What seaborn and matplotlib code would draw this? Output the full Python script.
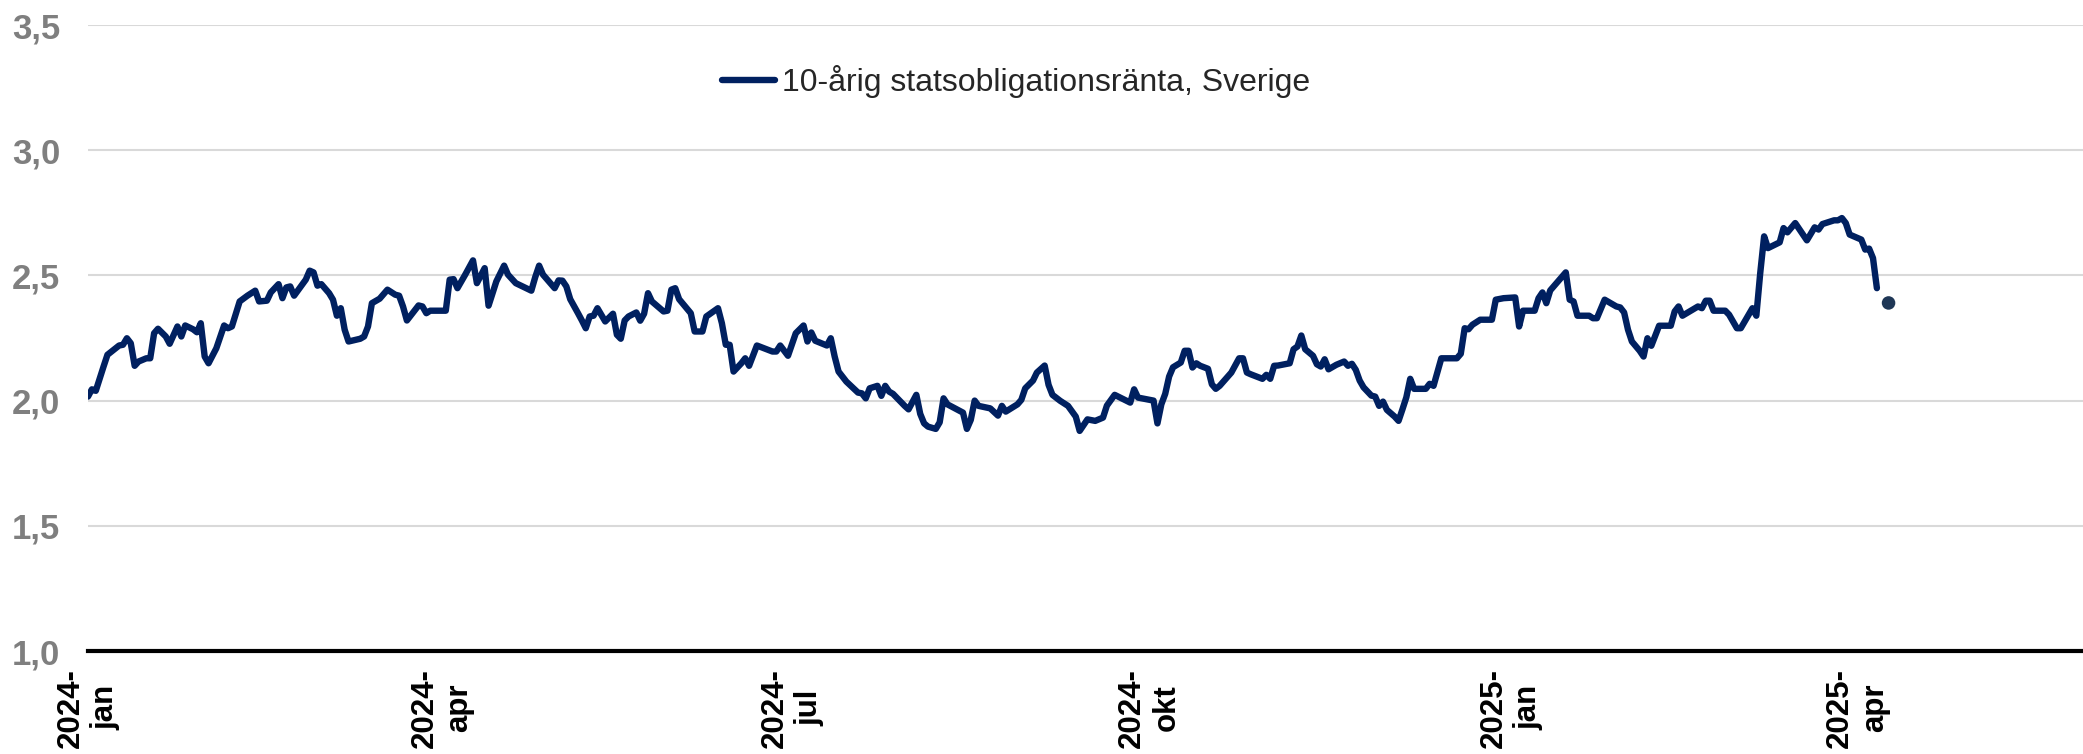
import numpy as np
import pandas as pd
import matplotlib
matplotlib.use('Agg')
import matplotlib.pyplot as plt
import seaborn as sns

# Data: dagar efter startdatum och ränta (%)
start = '2024-01-01'
dag_2024 = [1, 2, 3, 5, 6, 9, 10, 11, 12, 13, 14, 16, 17, 18, 19, 21, 22, 24, 25, 26,
            28, 29, 30, 31, 32, 34, 36, 37, 38, 40, 42, 44, 45, 47, 48, 50, 51, 52, 53, 54,
            57, 58, 59, 60, 61, 63, 64, 65, 66, 67, 68, 71, 72, 73, 74, 76, 78, 80, 81, 82,
            83, 86, 87, 88, 89, 93, 94, 95, 96, 98, 100, 101, 103, 104, 106, 108, 109, 111, 115, 116,
            117, 118, 121, 122, 123, 124, 125, 127, 128, 129, 130, 131, 132, 134, 136, 137, 138, 139, 140, 142,
            143, 144, 145, 146, 149, 150, 151, 152, 153, 156, 157, 159, 160, 163, 164, 165, 166, 167, 169, 170,
            171, 173, 177, 178, 179, 181, 183, 185, 186, 187, 188, 191, 192, 193, 194, 196, 199, 200, 201, 202,
            204, 205, 206, 207, 208, 211, 212, 214, 215, 216, 217, 219, 220, 221, 222, 226, 227, 228, 229, 230,
            233, 235, 236, 237, 240, 241, 242, 244, 245, 247, 248, 249, 251, 253, 255, 256, 258, 260, 262, 263,
            265, 269, 270, 271, 274, 275, 276, 277, 278, 279, 280, 282, 283, 284, 285, 286, 287, 289, 290, 291,
            292, 295, 297, 298, 299, 300, 303, 304, 305, 306, 307, 310, 311, 312, 313, 314, 316, 317, 318, 319,
            320, 322, 324, 325, 326, 327, 328, 329, 331, 332, 333, 334, 335, 337, 338, 339, 340, 341, 342, 345,
            346, 347, 349, 353, 354, 355, 356, 357, 359, 362, 363, 365]
ranta_2024 = [2.016, 2.045, 2.039, 2.136, 2.183, 2.220, 2.223, 2.249, 2.229, 2.139, 2.156, 2.169, 2.169, 2.269, 2.287, 2.256, 2.227, 2.296, 2.256, 2.300,
              2.285, 2.273, 2.309, 2.176, 2.149, 2.209, 2.300, 2.289, 2.296, 2.396, 2.419, 2.439, 2.396, 2.399, 2.432, 2.465, 2.409, 2.452, 2.456, 2.419,
              2.483, 2.519, 2.512, 2.459, 2.465, 2.429, 2.403, 2.339, 2.369, 2.283, 2.236, 2.247, 2.256, 2.296, 2.389, 2.407, 2.443, 2.423, 2.419, 2.376,
              2.320, 2.380, 2.376, 2.349, 2.359, 2.359, 2.483, 2.485, 2.449, 2.503, 2.560, 2.469, 2.529, 2.379, 2.476, 2.539, 2.503, 2.469, 2.439, 2.493,
              2.539, 2.503, 2.449, 2.480, 2.479, 2.456, 2.405, 2.349, 2.320, 2.289, 2.336, 2.339, 2.369, 2.316, 2.347, 2.263, 2.247, 2.320, 2.336, 2.352,
              2.319, 2.347, 2.429, 2.396, 2.356, 2.359, 2.443, 2.449, 2.405, 2.349, 2.276, 2.276, 2.336, 2.369, 2.309, 2.223, 2.223, 2.116, 2.149, 2.169,
              2.139, 2.220, 2.196, 2.196, 2.220, 2.179, 2.269, 2.300, 2.236, 2.272, 2.239, 2.220, 2.249, 2.176, 2.116, 2.076, 2.032, 2.029, 2.009, 2.049,
              2.059, 2.019, 2.059, 2.036, 2.027, 1.979, 1.965, 2.023, 1.947, 1.909, 1.896, 1.887, 1.913, 2.009, 1.985, 1.952, 1.887, 1.923, 2.000, 1.979,
              1.969, 1.940, 1.979, 1.956, 1.985, 2.003, 2.049, 2.080, 2.112, 2.140, 2.063, 2.023, 1.999, 1.979, 1.936, 1.879, 1.925, 1.919, 1.932, 1.980,
              2.023, 1.992, 2.045, 2.012, 2.003, 2.000, 1.909, 1.985, 2.027, 2.096, 2.133, 2.152, 2.199, 2.199, 2.132, 2.149, 2.139, 2.127, 2.065, 2.047,
              2.059, 2.112, 2.169, 2.169, 2.112, 2.105, 2.087, 2.103, 2.087, 2.139, 2.140, 2.149, 2.205, 2.216, 2.260, 2.205, 2.179, 2.145, 2.136, 2.165,
              2.125, 2.143, 2.156, 2.139, 2.147, 2.123, 2.080, 2.053, 2.020, 2.016, 1.979, 1.996, 1.963, 1.936, 1.919, 1.965, 2.013, 2.087, 2.047, 2.047,
              2.067, 2.059, 2.169, 2.169, 2.187, 2.289, 2.285, 2.303, 2.323, 2.323, 2.403, 2.409]
dag_2025 = [368, 369, 370, 373, 374, 375, 376, 377, 381, 382, 383, 384, 387, 388, 389, 391, 394, 395, 396, 397,
            398, 400, 401, 402, 403, 405, 408, 409, 410, 411, 415, 416, 417, 418, 419, 422, 423, 425, 426, 429,
            430, 431, 432, 433, 436, 437, 438, 440, 443, 445, 446, 447, 450, 451, 452, 453, 454, 457, 458, 459,
            460, 461]
ranta_2025 = [2.412, 2.296, 2.359, 2.359, 2.409, 2.432, 2.389, 2.440, 2.512, 2.403, 2.396, 2.339, 2.339, 2.329, 2.329, 2.403, 2.376, 2.372, 2.352, 2.283,
              2.236, 2.199, 2.176, 2.249, 2.219, 2.299, 2.299, 2.356, 2.376, 2.339, 2.376, 2.369, 2.399, 2.399, 2.359, 2.359, 2.343, 2.289, 2.289, 2.369,
              2.339, 2.509, 2.656, 2.609, 2.632, 2.689, 2.672, 2.709, 2.640, 2.692, 2.683, 2.705, 2.720, 2.720, 2.729, 2.709, 2.663, 2.643, 2.603, 2.607,
              2.569, 2.449]
senaste_dag = [464]
senaste_ranta = [2.39]

tick_datum = ['2024-01-02', '2024-04-02', '2024-07-01', '2024-10-01', '2025-01-02', '2025-04-01']
tick_text = ['2024-\njan', '2024-\napr', '2024-\njul', '2024-\nokt', '2025-\njan', '2025-\napr']
y_ticks = [1.0, 1.5, 2.0, 2.5, 3.0, 3.5]
serie_namn = '10-årig statsobligationsränta, Sverige'

sns.set_theme(style='white')
plt.rcParams['font.family'] = ['Liberation Sans', 'DejaVu Sans']

t0 = pd.Timestamp(start)
df = pd.DataFrame({
    'datum': t0 + pd.to_timedelta(dag_2024 + dag_2025, unit='D'),
    'ranta': ranta_2024 + ranta_2025,
})
df_sista = pd.DataFrame({
    'datum': t0 + pd.to_timedelta(senaste_dag, unit='D'),
    'ranta': senaste_ranta,
})

W, H = 2083, 754
fig = plt.figure(figsize=(W / 100, H / 100), dpi=100)
ax = fig.add_axes([88 / W, 1 - 651 / H, 1 - 88 / W, (651 - 25) / H])

sns.lineplot(data=df, x='datum', y='ranta', color='#002060', linewidth=4.6,
             ax=ax, label=serie_namn, zorder=3)
sns.scatterplot(data=df_sista, x='datum', y='ranta', color='#1F3756', s=95,
                edgecolor='none', ax=ax, legend=False, zorder=4)

ax.set_ylim(1.0, 3.5)
ax.set_yticks(y_ticks)
ax.set_yticklabels([f'{v:.1f}'.replace('.', ',') for v in y_ticks])
ax.set_xlim(pd.Timestamp('2024-01-02'), pd.Timestamp('2025-05-29'))
ax.set_xticks(pd.to_datetime(tick_datum))
ax.set_xticklabels(tick_text, rotation=90, ha='center', va='top')
ax.set_xlabel('')
ax.set_ylabel('')

ax.yaxis.grid(True, color='#D9D9D9', lw=1.5)
ax.xaxis.grid(False)
for s in ['top', 'right', 'left']:
    ax.spines[s].set_visible(False)
ax.spines['bottom'].set_color('black')
ax.spines['bottom'].set_linewidth(3)
ax.spines['bottom'].set_zorder(5)

ax.tick_params(axis='y', length=0, pad=20, labelsize=25, labelcolor='#7F7F7F')
ax.tick_params(axis='x', length=0, pad=12, labelsize=22.5, labelcolor='black')
for lab in ax.get_yticklabels() + ax.get_xticklabels():
    lab.set_fontweight('bold')

ax.legend(loc='center left', bbox_to_anchor=((722 - 88) / (W - 88), (651 - 82) / (651 - 25)),
          frameon=False, fontsize=23, handlelength=1.65, handletextpad=0.22,
          borderpad=0, borderaxespad=0)

fig.savefig('out.png', dpi=100, facecolor='white')
